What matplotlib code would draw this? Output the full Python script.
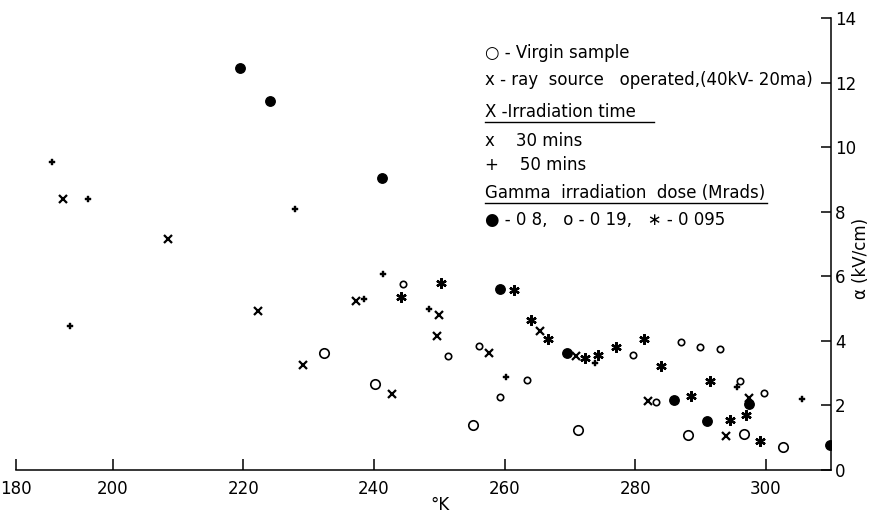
from matplotlib import pyplot as plt
from matplotlib.lines import Line2D
import numpy as np

# virgin sample (large open circles)
virgin_t = [232.4, 240.2, 255.2, 271.3, 288.1, 296.7, 302.7]
virgin_a = [3.63, 2.67, 1.38, 1.25, 1.09, 1.11, 0.70]

# X irradiation 30 mins
x30_t = [189.7, 208.4, 222.2, 229.2, 237.3, 242.7, 249.9, 249.7, 257.6, 265.5, 270.9, 282.0, 293.9, 297.4]
x30_a = [8.39, 7.15, 4.93, 3.24, 5.23, 2.34, 4.79, 4.14, 3.62, 4.30, 3.53, 2.15, 1.06, 2.22]

# X irradiation 50 mins
x50_t = [187.4, 191.1, 194.8, 227.9, 238.5, 241.4, 248.4, 260.3, 273.8, 295.6, 305.6]
x50_a = [9.54, 4.46, 8.39, 8.08, 5.31, 6.08, 4.98, 2.88, 3.30, 2.56, 2.19]

# gamma 0.8 Mrads
g08_t = [219.5, 224.1, 241.2, 259.3, 269.5, 286.0, 291.0, 297.4, 309.8]
g08_a = [12.45, 11.42, 9.04, 5.61, 3.63, 2.18, 1.53, 2.04, 0.76]

# gamma 0.19 Mrads
g019_t = [244.4, 251.3, 256.1, 259.3, 263.5, 279.7, 283.2, 287.1, 290.0, 293.0, 296.0, 299.8]
g019_a = [5.76, 3.53, 3.85, 2.25, 2.80, 3.56, 2.12, 3.98, 3.80, 3.74, 2.76, 2.38]

# gamma 0.095 Mrads
g0095_t = [244.2, 250.3, 261.4, 264.1, 266.6, 272.3, 274.3, 277.1, 281.3, 283.9, 288.6, 291.4, 294.5, 297.0, 299.2]
g0095_a = [5.37, 5.78, 5.57, 4.64, 4.06, 3.48, 3.56, 3.81, 4.05, 3.23, 2.28, 2.76, 1.56, 1.70, 0.91]

xticks = [180, 200, 220, 240, 260, 280, 300]
yticks = [0, 2, 4, 6, 8, 10, 12, 14]

legend_lines = [
	'\u25cb - Virgin sample',
	'x - ray  source   operated,(40kV- 20ma)',
	'X -Irradiation time',
	'x    30 mins',
	'+    50 mins',
	'Gamma  irradiation  dose (Mrads)',
	'\u25cf - 0 8,   o - 0 19,   \u2217 - 0 095',
]
underlined = {2: 18, 5: 2}

plt.rcParams['font.family'] = ['DejaVu Sans']

# the 180-200 stretch of the original axis is drawn compressed
squeeze = 0.74
def fwd(x):
	x = np.asarray(x, dtype=float)
	return np.where(x < 200, 200 - (200 - x) * squeeze, x)
def inv(x):
	x = np.asarray(x, dtype=float)
	return np.where(x < 200, 200 - (200 - x) / squeeze, x)

fig = plt.figure(figsize=(8.71, 5.19), dpi=100)
ax = fig.add_axes([0.0184, 0.0944, 0.9357, 0.8709])
ax.set_xscale('function', functions=(fwd, inv))

ax.plot(virgin_t, virgin_a, 'o', ms=6.8, mfc='white', mec='black', mew=1.2, ls='none')
ax.plot(x30_t, x30_a, 'x', ms=5.5, mec='black', mew=1.6, ls='none')
ax.plot(x50_t, x50_a, 'P', ms=3.8, mfc='black', mec='black', mew=0.3, ls='none')
ax.plot(g08_t, g08_a, 'o', ms=6.8, mfc='black', mec='black', ls='none')
ax.plot(g019_t, g019_a, 'o', ms=4.6, mfc='white', mec='black', mew=1.2, ls='none')
ax.plot(g0095_t, g0095_a, marker=(6, 2, 0), ms=7.5, mec='black', mew=1.7, ls='none')

ax.set_xlim(180, 310)
ax.set_ylim(0, 14)
ax.set_xticks(xticks)
ax.set_yticks(yticks)
ax.spines['top'].set_visible(False)
ax.spines['left'].set_visible(False)
ax.spines['right'].set_linewidth(1.1)
ax.spines['bottom'].set_linewidth(1.1)
ax.yaxis.tick_right()
ax.tick_params(axis='x', direction='in', length=8, width=1.1, labelsize=12, pad=7)
ax.tick_params(axis='y', direction='in', length=7, width=1.1, labelsize=12, pad=3)

fig.text(440 / 871, 1 - 505 / 519, '\u00b0K', fontsize=12, ha='center', va='center')
fig.text(861 / 871, 1 - 258 / 519, '\u03b1 (kV/cm)', fontsize=12, ha='center', va='center', rotation=90)

ys = [53, 80, 112, 141, 165, 193, 220]
texts = []
for i, s in enumerate(legend_lines):
	t = fig.text(485 / 871, 1 - ys[i] / 519, s, fontsize=12, ha='left', va='center')
	texts.append(t)

fig.canvas.draw()
r = fig.canvas.get_renderer()
for i, extra in underlined.items():
	bb = texts[i].get_window_extent(r)
	x0, x1 = bb.x0 / 871, (bb.x1 + extra) / 871
	yl = (bb.y0 - 1) / 519
	fig.add_artist(Line2D([x0, x1], [yl, yl], color='black', lw=1.0))

fig.savefig('out.png', dpi=100)
